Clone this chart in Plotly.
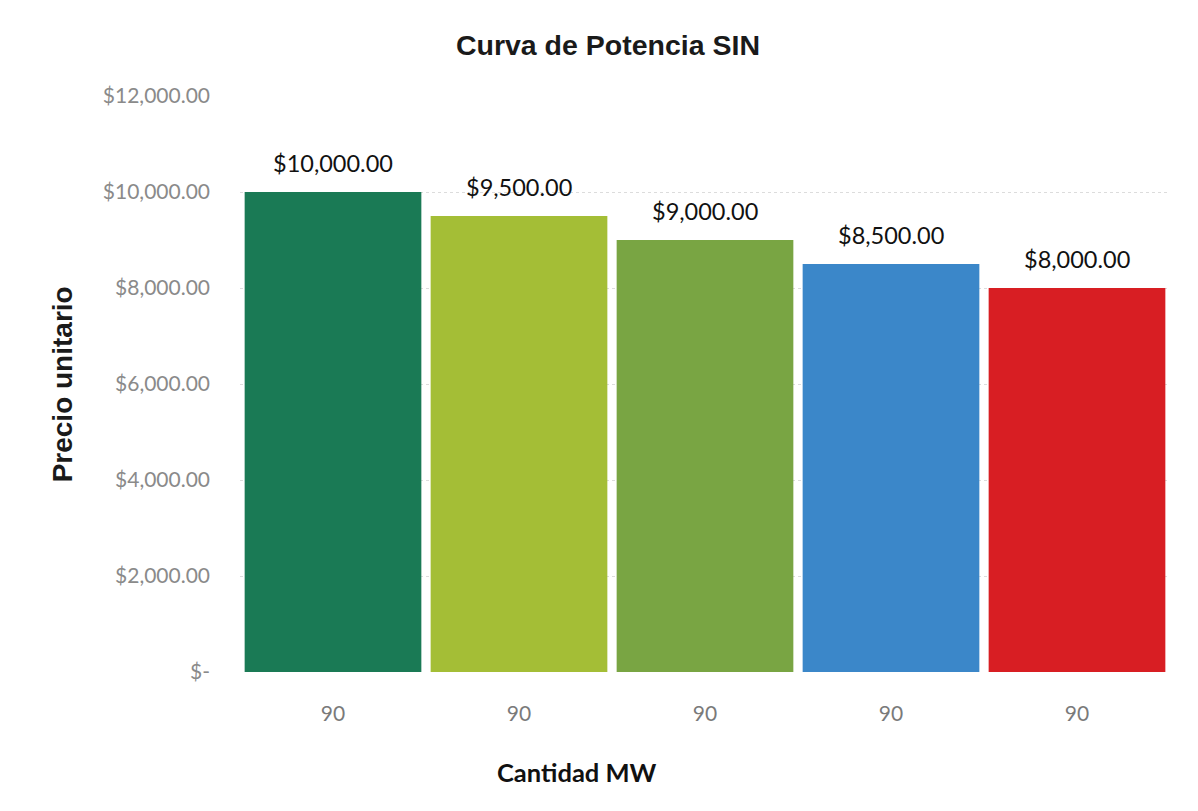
import plotly.graph_objects as go

categories = ["90", "90", "90", "90", "90"]
prices = [10000, 9500, 9000, 8500, 8000]
bar_colors = ["#1a7a55", "#a4be36", "#79a543", "#3b87c9", "#d81e23"]
y_tick_values = [0, 2000, 4000, 6000, 8000, 10000, 12000]
y_tick_labels = ["$-", "$2,000.00", "$4,000.00", "$6,000.00", "$8,000.00", "$10,000.00", "$12,000.00"]

positions = list(range(len(categories)))
labels = ["${:,.2f}".format(v) for v in prices]

LABEL_FONT = "Lato, Open Sans, sans-serif"
ARIAL = "Liberation Sans, Arial, sans-serif"

fig = go.Figure()
fig.add_trace(go.Bar(
    x=positions,
    y=prices,
    marker=dict(color=bar_colors, line=dict(width=0)),
    showlegend=False,
    hoverinfo="y",
))

annotations = []
for p, v, t in zip(positions, prices, labels):
    annotations.append(dict(
        x=p, y=v, xref="x", yref="y", text=t, showarrow=False,
        yanchor="bottom", yshift=13,
        font=dict(family=LABEL_FONT, size=23.5, color="#111111"),
    ))

annotations.append(dict(
    x=0.362, y=-0.174, xref="paper", yref="paper",
    text="<b>Cantidad MW</b>", showarrow=False,
    xanchor="center", yanchor="middle",
    font=dict(family=LABEL_FONT, size=25.5, color="#111111"),
))
annotations.append(dict(
    x=-0.191, y=0.5, xref="paper", yref="paper",
    text="<b>Precio unitario</b>", showarrow=False, textangle=-90,
    xanchor="center", yanchor="middle",
    font=dict(family=ARIAL, size=28, color="#1a1a1a"),
))

fig.update_layout(
    width=1182,
    height=795,
    paper_bgcolor="white",
    plot_bgcolor="white",
    margin=dict(l=232, r=20, t=88, b=131),
    bargap=0.05,
    title=dict(
        text="<b>Curva de Potencia SIN</b>",
        x=0.5076, xanchor="center",
        y=0.953, yanchor="middle",
        font=dict(family=ARIAL, size=28.5, color="#1a1a1a"),
    ),
    annotations=annotations,
    xaxis=dict(
        tickmode="array",
        tickvals=positions,
        ticktext=categories,
        range=[-0.5, len(categories) - 0.5],
        showgrid=False,
        zeroline=False,
        showline=False,
        ticks="",
        ticklabelstandoff=27,
        tickfont=dict(family=LABEL_FONT, size=21, color="#7a7a7a"),
    ),
    yaxis=dict(
        tickmode="array",
        tickvals=y_tick_values,
        ticktext=y_tick_labels,
        range=[0, 12000],
        showgrid=True,
        gridcolor="#dcdcdc",
        gridwidth=1,
        griddash="dot",
        zeroline=False,
        showline=False,
        ticks="",
        ticklabelstandoff=29,
        tickfont=dict(family=LABEL_FONT, size=21, color="#8a8a8a"),
    ),
)

fig.write_html("out.html")
